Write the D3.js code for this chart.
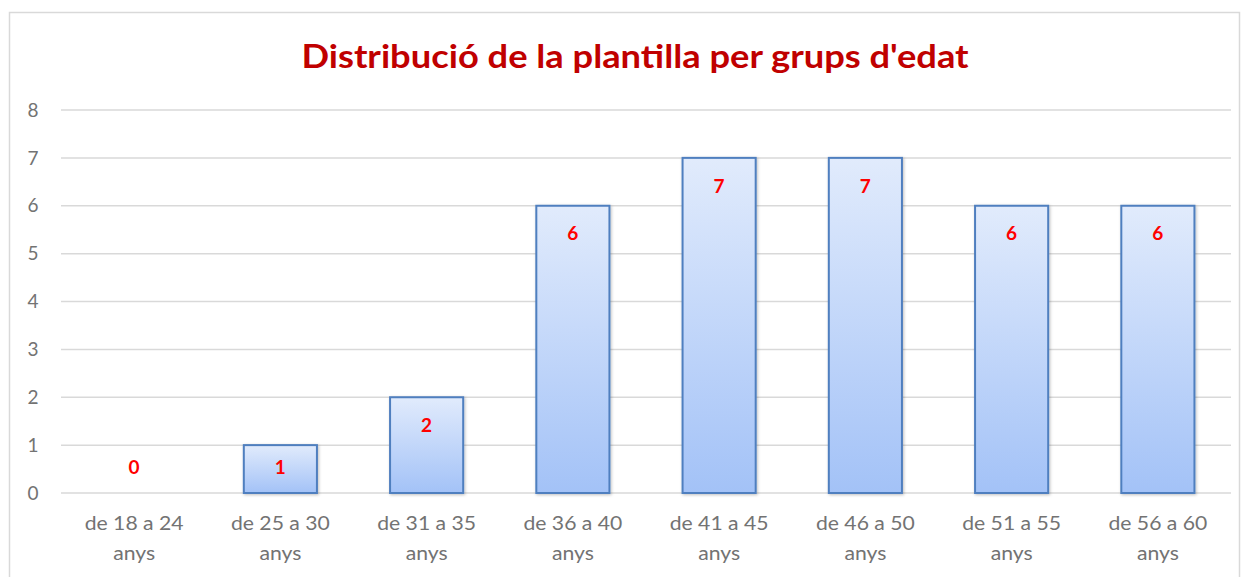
<!DOCTYPE html>
<html>
<head>
<meta charset="utf-8">
<script src="https://cdn.jsdelivr.net/npm/d3@7"></script>
<style>
  body { margin: 0; background: #fff; }
  svg { display: block; font-family: Lato, "Open Sans", sans-serif; }
</style>
</head>
<body>
<div class="main"></div>
<script>
// chart data
var categories = ["de 18 a 24 anys", "de 25 a 30 anys", "de 31 a 35 anys", "de 36 a 40 anys",
  "de 41 a 45 anys", "de 46 a 50 anys", "de 51 a 55 anys", "de 56 a 60 anys"];
var values = [0, 1, 2, 6, 7, 7, 6, 6];
var yTicks = [0, 1, 2, 3, 4, 5, 6, 7, 8];
var title = "Distribució de la plantilla per grups d'edat";

var data = categories.map(function(c, i) {
  return { cat: c, value: values[i] };
});

var fullwidth = 1249, fullheight = 577;
var margin = { top: 110, right: 18, bottom: 84, left: 61 };
var width = fullwidth - margin.left - margin.right;
var height = fullheight - margin.top - margin.bottom;
var textGray = "#737373";

var root = d3.select(".main")
  .append("svg")
  .attr("width", fullwidth)
  .attr("height", fullheight);

var defs = root.append("defs");
var grad = defs.append("linearGradient")
  .attr("id", "barFill")
  .attr("x1", 0).attr("y1", 0).attr("x2", 0).attr("y2", 1);
grad.append("stop").attr("offset", "0%").attr("stop-color", "#e1ebfc");
grad.append("stop").attr("offset", "100%").attr("stop-color", "#a3c2f7");

var shadow = defs.append("filter").attr("id", "shadow")
  .attr("x", "-20%").attr("y", "-20%").attr("width", "140%").attr("height", "140%");
shadow.append("feDropShadow")
  .attr("dx", 1).attr("dy", 1).attr("stdDeviation", 1.5)
  .attr("flood-color", "#000").attr("flood-opacity", 0.25);

// chart border
root.append("rect")
  .attr("x", 9.5).attr("y", 12.5)
  .attr("width", 1230).attr("height", 600)
  .attr("fill", "none")
  .attr("stroke", "#d9d9d9")
  .attr("stroke-width", 1.5);

// title (stretched a little to match the reference's wider glyphs)
root.append("text")
  .attr("transform", "translate(635,68) scale(1.1,1)")
  .attr("text-anchor", "middle")
  .attr("fill", "#c00000")
  .style("font-size", "33px")
  .style("font-weight", "bold")
  .text(title);

var svg = root.append("g")
  .attr("transform", "translate(" + margin.left + "," + margin.top + ")");

var x = d3.scaleBand()
  .domain(categories)
  .range([0, width])
  .paddingInner(0.5)
  .paddingOuter(0.25);

var y = d3.scaleLinear()
  .domain([0, 8])
  .range([height, 0]);

// gridlines
svg.append("g")
  .selectAll("line")
  .data(yTicks)
  .join("line")
  .attr("x1", 0).attr("x2", width)
  .attr("y1", d => y(d)).attr("y2", d => y(d))
  .attr("stroke", "#d9d9d9")
  .attr("stroke-width", 1.5);

// y axis labels
svg.append("g")
  .selectAll("text")
  .data(yTicks)
  .join("text")
  .attr("x", -28)
  .attr("y", d => y(d))
  .attr("dy", "0.35em")
  .attr("text-anchor", "middle")
  .attr("fill", textGray)
  .style("font-size", "19px")
  .text(d => d);

// bars (zero values draw nothing)
svg.append("g")
  .selectAll("rect")
  .data(data.filter(d => d.value > 0))
  .join("rect")
  .attr("x", d => x(d.cat))
  .attr("y", d => y(d.value))
  .attr("width", x.bandwidth())
  .attr("height", d => height - y(d.value))
  .attr("fill", "url(#barFill)")
  .attr("stroke", "#4f7fbf")
  .attr("stroke-width", 2)
  .attr("filter", "url(#shadow)");

// value labels
svg.append("g")
  .selectAll("text")
  .data(data)
  .join("text")
  .attr("x", d => x(d.cat) + x.bandwidth() / 2)
  .attr("y", d => Math.min(y(d.value) + 28, y(0) - 26))
  .attr("dy", "0.35em")
  .attr("text-anchor", "middle")
  .attr("fill", "#ff0000")
  .style("font-size", "19px")
  .style("font-weight", "bold")
  .text(d => d.value);

// category labels, two lines
var cat = svg.append("g")
  .selectAll("g")
  .data(categories)
  .join("g")
  .attr("transform", d => "translate(" + (x(d) + x.bandwidth() / 2) + "," + (height + 37) + ") scale(1.06,1)")
  .append("text")
  .attr("text-anchor", "middle")
  .attr("fill", textGray)
  .style("font-size", "20px");
cat.append("tspan")
  .attr("x", 0)
  .text(d => d.replace(" anys", ""));
cat.append("tspan")
  .attr("x", 0)
  .attr("dy", 30)
  .text("anys");
</script>
</body>
</html>
